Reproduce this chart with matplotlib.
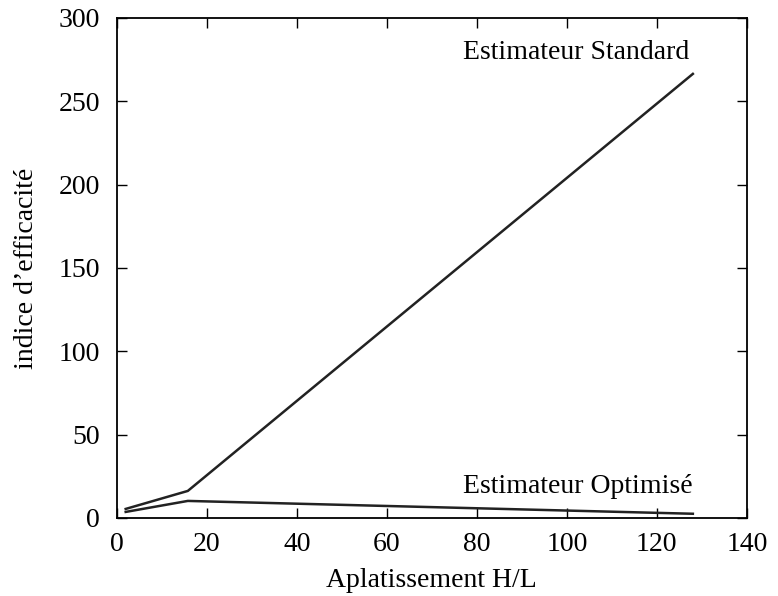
import matplotlib
matplotlib.use("Agg")
import matplotlib.pyplot as plt

# data
aplatissement = [2, 15.8, 128]
standard = [5.4, 16.2, 266.4]
optimise = [3.6, 10.2, 2.5]

plt.rcParams['font.family'] = ['Liberation Serif', 'DejaVu Serif']
plt.rcParams['font.size'] = 20

fig = plt.figure(figsize=(7.78, 5.96), dpi=100)
ax = fig.add_axes([0.150, 0.131, 0.810, 0.839])

ax.plot(aplatissement, standard, color='#222222', lw=1.8)
ax.plot(aplatissement, optimise, color='#222222', lw=1.8)

ax.text(77, 279, 'Estimateur Standard', va='center', ha='left')
ax.text(77, 18.6, 'Estimateur Optimisé', va='center', ha='left')

ax.set_xlim(0, 140)
ax.set_ylim(0, 300)
ax.set_xticks(range(0, 141, 20))
ax.set_yticks(range(0, 301, 50))
ax.tick_params(direction='in', top=True, right=True, length=7, width=1)
ax.tick_params(axis='x', pad=10)
ax.tick_params(axis='y', pad=12)
for s in ax.spines.values():
    s.set_linewidth(1.3)

ax.set_xlabel('Aplatissement H/L', labelpad=8)
ax.set_ylabel('indice d\u2019efficacité', labelpad=14)

fig.savefig('out.png', dpi=100)
